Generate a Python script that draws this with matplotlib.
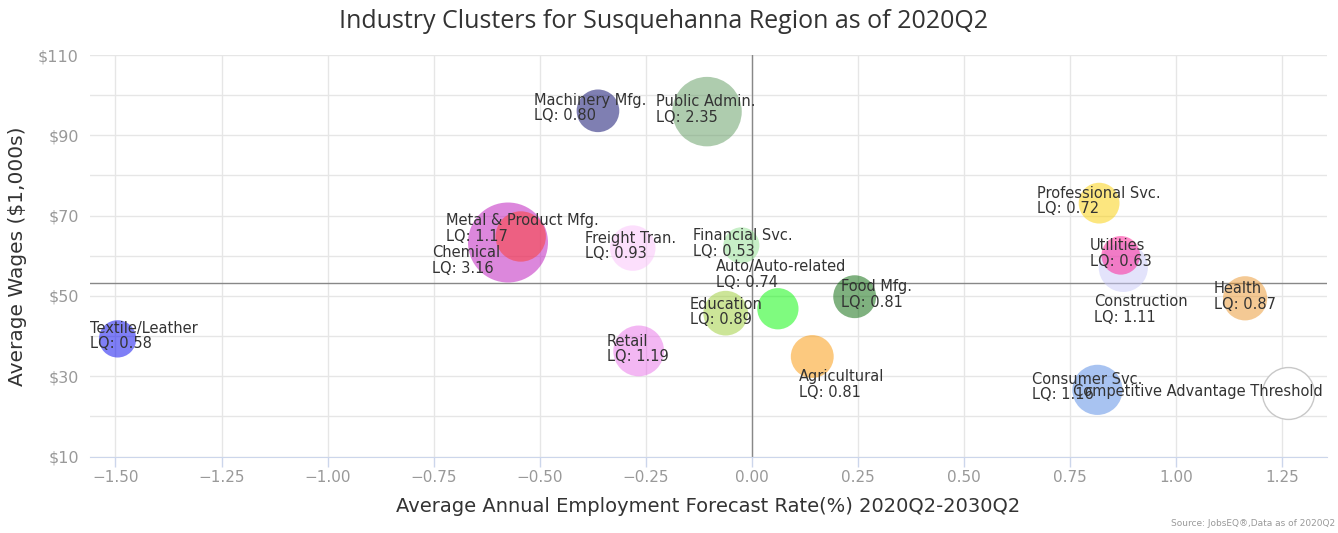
import numpy as np
import matplotlib
matplotlib.use("Agg")
from matplotlib import pyplot as plt
from matplotlib.ticker import FuncFormatter, MultipleLocator

#### Data
clusters = ["Textile/Leather", "Machinery Mfg.", "Public Admin.", "Chemical",
            "Metal & Product Mfg.", "Freight Tran.", "Financial Svc.",
            "Auto/Auto-related", "Education", "Food Mfg.", "Retail",
            "Agricultural", "Professional Svc.", "Construction", "Utilities",
            "Health", "Consumer Svc."]
forecast_rate = [-1.495, -0.363, -0.106, -0.575, -0.545, -0.281, -0.025,
                 0.061, -0.062, 0.242, -0.267, 0.142, 0.818, 0.875, 0.869,
                 1.162, 0.814]
avg_wages = [39.3, 96.1, 95.9, 63.3, 64.8, 61.9, 62.6, 46.8, 45.7, 49.8,
             36.3, 34.9, 73.1, 57.1, 60.1, 49.4, 26.6]
lq = [0.58, 0.80, 2.35, 3.16, 1.17, 0.93, 0.53, 0.74, 0.89, 0.81, 1.19,
      0.81, 0.72, 1.11, 0.63, 0.87, 1.16]

threshold_x = 1.263
threshold_y = 25.8
threshold_lq = 1.25

wage_mean = 53.3     # horizontal reference line
rate_mean = 0.0      # vertical reference line

wage_ticks = [10, 30, 50, 70, 90, 110]

#### Styles
colors = ["#0000ee", "#000066", "#5f9a5f", "#bb11bb", "#ff3a2a", "#fbc1fb",
          "#90e090", "#00f800", "#9acd32", "#006400", "#e970e9", "#fb9500",
          "#fbcf00", "#c8c8f8", "#ff1493", "#eb952b", "#5389e5"]
# label offsets in pixels: (left edge - centre x, block centre y - centre y)
label_offsets = [(-28, 3), (-64, 3), (-51, 2), (-76, -18), (-75, 8), (-48, 2),
                 (-48, 2), (-62, 34), (-36, 1), (-14, 2), (-32, 2), (-13, -28),
                 (-62, 2), (-29, -42), (-31, 2), (-31, 2), (-65, 3)]

DPI = 100
fig = plt.figure(figsize=(13.38, 5.33), dpi=DPI)
ax = fig.add_axes([90 / 1338, 76.5 / 533, 1237 / 1338, 401.5 / 533])


# bubble radius in pixels, sized by area between min and max radius
def bubble_size(z, zmin, zmax, rmin=18.0, rmax=40.0):
    pos = (z - zmin) / (zmax - zmin)
    r = np.sqrt(rmin ** 2 + pos * (rmax ** 2 - rmin ** 2))
    d_pt = 2 * r * 72 / DPI
    return d_pt ** 2


zmin, zmax = min(lq), max(lq)
sizes = [bubble_size(z, zmin, zmax) for z in lq]

ax.scatter(forecast_rate, avg_wages, s=sizes, c=colors, alpha=0.5,
           linewidths=0, zorder=3)

# threshold bubble
ax.scatter([threshold_x], [threshold_y], s=[bubble_size(threshold_lq, zmin, zmax)],
           facecolors="white", edgecolors="#c8c8c8", linewidths=1, zorder=3)

# data labels
for name, x, y, z, (dx, dy) in zip(clusters, forecast_rate, avg_wages, lq, label_offsets):
    ax.annotate(f"{name}\nLQ: {z:.2f}", (x, y), xytext=(dx, dy),
                textcoords="offset pixels", ha="left", va="center",
                fontsize=10.5, color="#333333", linespacing=1.05, zorder=5)

ax.annotate("Competitive Advantage Threshold", (threshold_x, threshold_y),
            xytext=(35, 2), textcoords="offset pixels", ha="right", va="center",
            fontsize=10.5, color="#333333", zorder=5)

# reference lines
ax.axvline(rate_mean, color="#888888", linewidth=1, zorder=2)
ax.axhline(wage_mean, color="#888888", linewidth=1, zorder=2)

#### Axes
ax.set_xlim(-1.56, 1.355)
ax.set_ylim(10, 110)
ax.xaxis.set_major_locator(MultipleLocator(0.25))
ax.set_yticks(wage_ticks)
ax.yaxis.set_minor_locator(MultipleLocator(10))
ax.xaxis.set_major_formatter(FuncFormatter(lambda v, p: f"{v:.2f}".replace("-", "\u2212")))
ax.yaxis.set_major_formatter(FuncFormatter(lambda v, p: f"${v:.0f}"))

ax.grid(True, which="major", axis="x", color="#e6e6e6", linewidth=1, zorder=0)
ax.grid(True, which="both", axis="y", color="#e6e6e6", linewidth=1, zorder=0)
ax.set_axisbelow(True)

for side in ["top", "right", "left"]:
    ax.spines[side].set_visible(False)
ax.spines["bottom"].set_color("#ccd6eb")

ax.tick_params(axis="x", colors="#999999", labelsize=11, length=7, width=1,
               pad=3, color="#ccd6eb")
ax.tick_params(axis="y", which="both", length=0, colors="#999999", labelsize=11.5, pad=8)

ax.set_xlabel("Average Annual Employment Forecast Rate(%) 2020Q2-2030Q2",
              fontsize=14, color="#333333", labelpad=8)
ax.set_ylabel("Average Wages ($1,000s)", fontsize=14.5, color="#333333", labelpad=8)

fig.text(664 / 1338, 1 - 21 / 533, "Industry Clusters for Susquehanna Region as of 2020Q2",
         ha="center", va="center", fontsize=18, color="#333333", family="Open Sans")
fig.text(1335 / 1338, 1 - 524 / 533, "Source: JobsEQ\u00ae,Data as of 2020Q2",
         ha="right", va="center", fontsize=6.5, color="#999999")

plt.savefig("out.png", dpi=DPI)
